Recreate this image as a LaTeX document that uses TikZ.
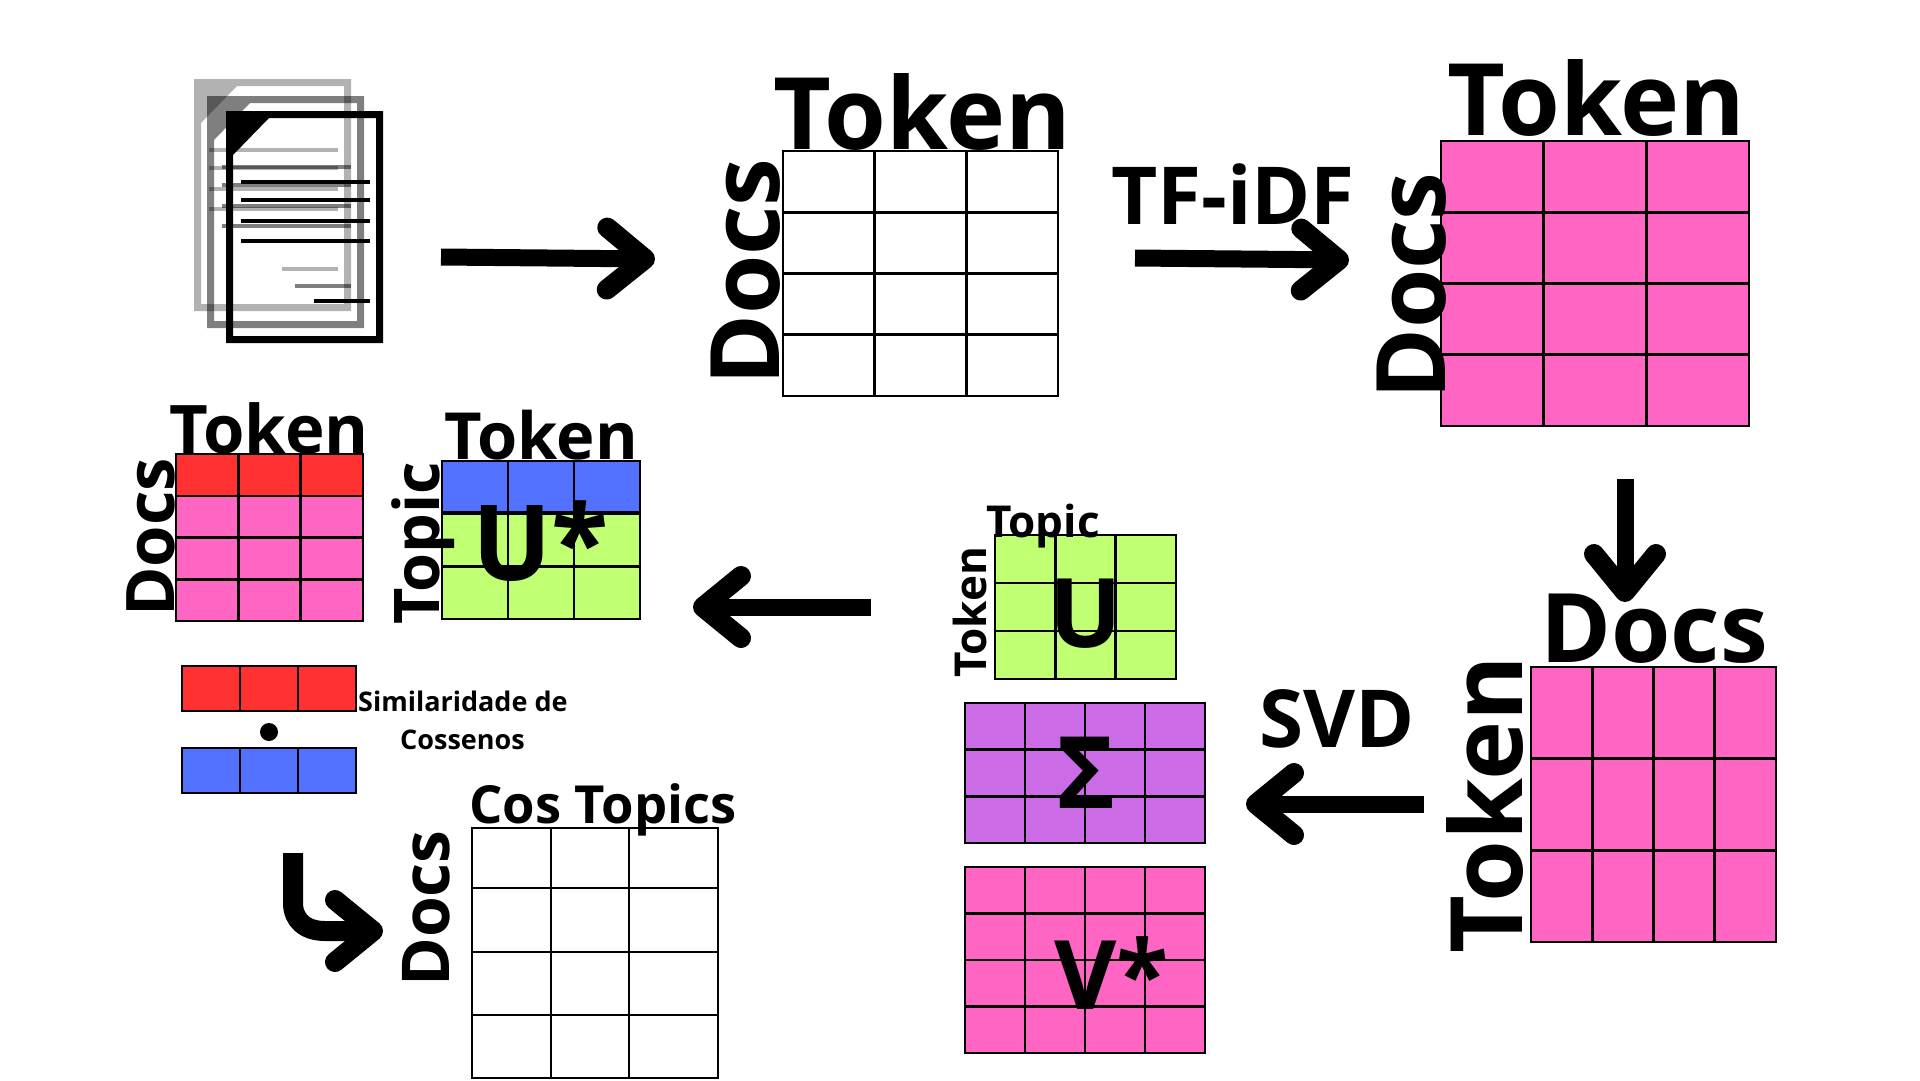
\documentclass[tikz,border=0pt]{standalone}
\usepackage{fontspec}
\setmainfont{Open Sans}
\usetikzlibrary{arrows.meta}
\definecolor{PINK}{HTML}{FF66C4}
\definecolor{RED}{HTML}{FF3131}
\definecolor{AZUL}{HTML}{5271FF}
\definecolor{LIME}{HTML}{C1FF72}
\definecolor{PURPLE}{HTML}{CB6CE6}
\tikzset{
    lab/.style={inner sep=0, anchor=base west, font=\bfseries\fontsize{#1}{#1}\selectfont},
    vlab/.style={lab=#1, rotate=90},
    bigarrow/.style={line width=17, -{Straight Barb[length=38pt,width=62pt,line width=20pt,round]}},
    gridline/.style={black, line width=2.9},
}
% grid: x0, y0, x1, y1, cols, rows, colour
\newcommand{\gridmat}[7]{
    \filldraw[gridline, fill=#7] (#1,#2) rectangle (#3,#4);
    \foreach \i in {1,...,#5} \draw[gridline] ({#1+(#3-#1)*\i/#5},#2) -- ({#1+(#3-#1)*\i/#5},#4);
    \foreach \j in {1,...,#6} \draw[gridline] (#1,{#2+(#4-#2)*\j/#6}) -- (#3,{#2+(#4-#2)*\j/#6});
}
% one sheet of the pile, shifted from the front one
\newcommand{\docsheet}[3]{
    \begin{scope}[shift={(#1,#2)}, opacity=#3]
        \fill[even odd rule] (226,111) rectangle (383,343)
            (269,118) -- (376,118) -- (376,336) -- (233,336) -- (233,155) -- cycle;
        \foreach \y in {182,200,221,241} \draw[line width=4] (241,\y) -- (370,\y);
        \draw[line width=4] (314,301) -- (370,301);
    \end{scope}
}
\begin{document}
\begin{tikzpicture}[x=1pt, y=-1pt]
    \useasboundingbox (0,0) rectangle (1920,1080);
    \fill[white] (0,0) rectangle (1920,1080);
    %
    \docsheet{-32}{-32}{0.3}
    \docsheet{-19}{-15}{0.5}
    \docsheet{0}{0}{1}
    %
    \gridmat{783}{151}{1058}{396}{3}{4}{white}
    \gridmat{1441}{141}{1749}{426}{3}{4}{PINK}
    \gridmat{1531}{667}{1776}{942}{4}{3}{PINK}
    \gridmat{995}{535}{1176}{679}{3}{3}{LIME}
    \gridmat{965}{703}{1205}{843}{4}{3}{PURPLE}
    \gridmat{965}{867}{1205}{1053}{4}{4}{PINK}
    \gridmat{442}{461}{640}{619}{3}{3}{LIME}
    \gridmat{442}{461}{640}{512}{3}{1}{AZUL}
    \gridmat{176}{454}{363}{621}{3}{4}{PINK}
    \gridmat{176}{454}{363}{496}{3}{1}{RED}
    \gridmat{182}{666}{356}{711}{3}{1}{RED}
    \gridmat{182}{748}{356}{793}{3}{1}{AZUL}
    % this one has uneven cells
    \draw[gridline] (472,828) rectangle (718,1078);
    \foreach \x in {551,629} \draw[gridline] (\x,828) -- (\x,1078);
    \foreach \y in {888,952,1015} \draw[gridline] (472,\y) -- (718,\y);
    \fill[black] (269,732) circle (9);
    %
    \coordinate (a1s) at (441,257);
    \coordinate (a1e) at (655,259);
    \coordinate (a2s) at (1135,258);
    \coordinate (a2e) at (1349,260);
    \coordinate (a3s) at (1625,479);
    \coordinate (a3e) at (1625,602);
    \coordinate (a4s) at (1424,804);
    \coordinate (a4e) at (1246,804);
    \coordinate (a5s) at (871,607);
    \coordinate (a5e) at (693,607);
    \coordinate (a6s) at (293,853);
    \coordinate (a6e) at (383,931);
    \draw[bigarrow] (a1s) -- (a1e);
    \draw[bigarrow] (a2s) -- (a2e);
    \draw[bigarrow] (a3s) -- (a3e);
    \draw[bigarrow] (a4s) -- (a4e);
    \draw[bigarrow] (a5s) -- (a5e);
    \draw[bigarrow, line width=20] (a6s) |- ++(0,50) .. controls (293,920) and (305,931) .. (325,931) -- (a6e);
    %
    \node[lab=100] (token1) at (773,149) {Token};
    \node[vlab=96] (docs1) at (779,386) {Docs};
    \node[lab=80] (tfidf) at (1111,224) {TF-iDF};
    \node[lab=100] (token2) at (1447,135) {Token};
    \node[vlab=96] (docs2) at (1445,400) {Docs};
    \node[lab=96] (docs3) at (1540,662) {Docs};
    \node[vlab=100] (token3) at (1522,954) {Token};
    \node[lab=80] (svd) at (1259,747) {SVD};
    \node[lab=44] (topic1) at (986,537) {Topic};
    \node[vlab=44] (token4) at (986,678) {Token};
    \node[lab=96] (u) at (1049,647) {U};
    \node[lab=100] (sigma) at (1056,808) {Σ};
    \node[lab=96] (vstar) at (1054,1009) {V*};
    \node[lab=105] (ustar) at (472,580) {U*};
    \node[lab=67] (token5) at (169,453) {Token};
    \node[lab=65] (token6) at (444,459) {Token};
    \node[vlab=67] (docs4) at (174,617) {Docs};
    \node[vlab=63] (topic2) at (439,625) {Topic};
    \node[lab=27] (simil) at (358,711) {Similaridade de};
    \node[lab=27] (cossenos) at (400,749) {Cossenos};
    \node[lab=52.5] (costopics) at (469,823) {Cos Topics};
    \node[vlab=66] (docs5) at (449,987) {Docs};
\end{tikzpicture}
\end{document}
